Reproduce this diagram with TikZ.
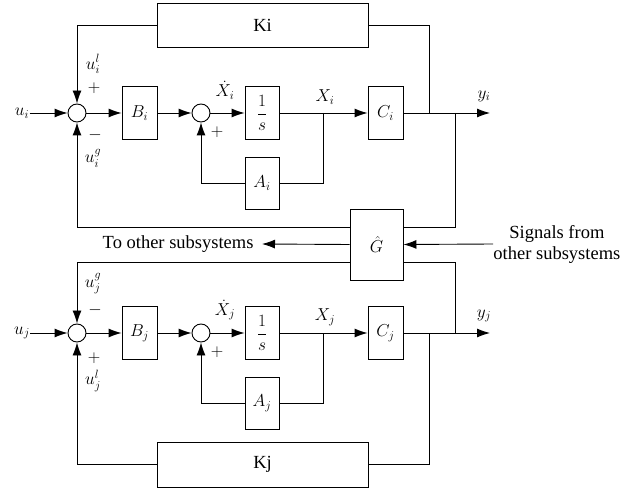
\documentclass[tikz,border=0pt]{standalone}
\usepackage{amsmath}
\usepackage{fontspec}
\setmainfont{Liberation Serif}
\usetikzlibrary{arrows.meta,calc}
\begin{document}
\begin{tikzpicture}[x=1pt,y=-1pt,line width=0.9pt,
  every node/.style={font=\fontsize{18.5}{21}\selectfont},
  blk/.style={draw,rectangle,inner sep=0pt,minimum width=35pt,minimum height=53pt},
  sumc/.style={draw,circle,inner sep=0pt,minimum size=18pt},
  lbl/.style={inner sep=0pt},
  arr/.style={-{Latex[length=13pt,width=9pt]}}]
\useasboundingbox (0,0) rectangle (635,489);
% upper subsystem
\node[blk,minimum width=211pt,minimum height=44pt] (Ki) at (262.5,25) {Ki};
\node[sumc] (s1) at (77,113) {};
\node[blk] (Bi) at (139.5,113) {$B_i$};
\node[sumc] (s2) at (201,113) {};
\node[blk,minimum width=34pt] (Ii) at (262,113) {$\dfrac{1}{s}$};
\node[blk,minimum width=34pt,minimum height=52pt] (Ai) at (262,183) {$A_i$};
\node[blk] (Ci) at (385.5,113) {$C_i$};
% G hat
\node[blk,minimum width=53pt,minimum height=71pt] (G) at (376.5,244.5) {$\hat{G}$};
% lower subsystem
\node[sumc] (s3) at (77,333) {};
\node[blk] (Bj) at (139.5,333) {$B_j$};
\node[sumc] (s4) at (201,333) {};
\node[blk,minimum width=34pt] (Ij) at (262,333) {$\dfrac{1}{s}$};
\node[blk,minimum width=34pt,minimum height=52pt] (Aj) at (262,403) {$A_j$};
\node[blk] (Cj) at (385.5,333) {$C_j$};
\node[blk,minimum width=211pt,minimum height=45pt] (Kj) at (262.5,464.5) {Kj};
% coordinates
\coordinate (xi) at (323,113);
\coordinate (ki) at (429,113);
\coordinate (gi) at (455,113);
\coordinate (yiend) at (490,113);
\coordinate (xj) at (323,333);
\coordinate (kj) at (429,333);
\coordinate (gj) at (455,333);
\coordinate (yjend) at (490,333);
\coordinate (Giw) at ($(G.west)+(0,-17.5)$);
\coordinate (Gie) at ($(G.east)+(0,-17.5)$);
\coordinate (Gjw) at ($(G.west)+(0,17.5)$);
\coordinate (Gje) at ($(G.east)+(0,17.5)$);
% text labels
\node[lbl] (uil) at (22,113) {$u_i$};
\node[lbl] (ujl) at (22,333) {$u_j$};
\node[lbl] at (93,64) {$u_i^{l}$};
\node[lbl] at (94,88) {$+$};
\node[lbl] at (95,135) {$-$};
\node[lbl] at (93,158) {$u_i^{g}$};
\node[lbl] at (217,132) {$+$};
\node[lbl] at (225,90) {$\dot{X}_i$};
\node[lbl] at (325,97) {$X_i$};
\node[lbl] at (484,96) {$y_i$};
\node[lbl] at (93,284) {$u_j^{g}$};
\node[lbl] at (95,310) {$-$};
\node[lbl] at (94,358) {$+$};
\node[lbl] at (93,381) {$u_j^{l}$};
\node[lbl] at (217,352) {$+$};
\node[lbl] at (225,310) {$\dot{X}_j$};
\node[lbl] at (325,317) {$X_j$};
\node[lbl] at (484,316) {$y_j$};
\node[anchor=east,inner ysep=0pt,inner xsep=8pt] (tos) at (262,244) {To other subsystems};
\node[align=center,inner xsep=0pt,inner ysep=0pt,anchor=west] (sig) at (493,244) {Signals from\\other subsystems};
% upper connectors
\draw[arr] (uil) -- (s1);
\draw[arr] (s1) -- (Bi);
\draw[arr] (Bi) -- (s2);
\draw[arr] (s2) -- (Ii);
\draw[arr] (Ii) -- (Ci);
\draw[arr] (Ci.east) -- (yiend);
\draw (xi) |- (Ai.east);
\draw[arr] (Ai.west) -| (s2.south);
\draw (ki) |- (Ki.east);
\draw[arr] (Ki.west) -| (s1.north);
\draw (gi) |- (Gie);
\draw[arr] (Giw) -| (s1.south);
% G connectors
\draw[arr] (G.west) -- (tos.east);
\draw[arr] (sig.west) -- (G.east);
% lower connectors
\draw[arr] (ujl) -- (s3);
\draw[arr] (s3) -- (Bj);
\draw[arr] (Bj) -- (s4);
\draw[arr] (s4) -- (Ij);
\draw[arr] (Ij) -- (Cj);
\draw[arr] (Cj.east) -- (yjend);
\draw (xj) |- (Aj.east);
\draw[arr] (Aj.west) -| (s4.south);
\draw (kj) |- (Kj.east);
\draw[arr] (Kj.west) -| (s3.south);
\draw (gj) |- (Gje);
\draw[arr] (Gjw) -| (s3.north);
\end{tikzpicture}
\end{document}
